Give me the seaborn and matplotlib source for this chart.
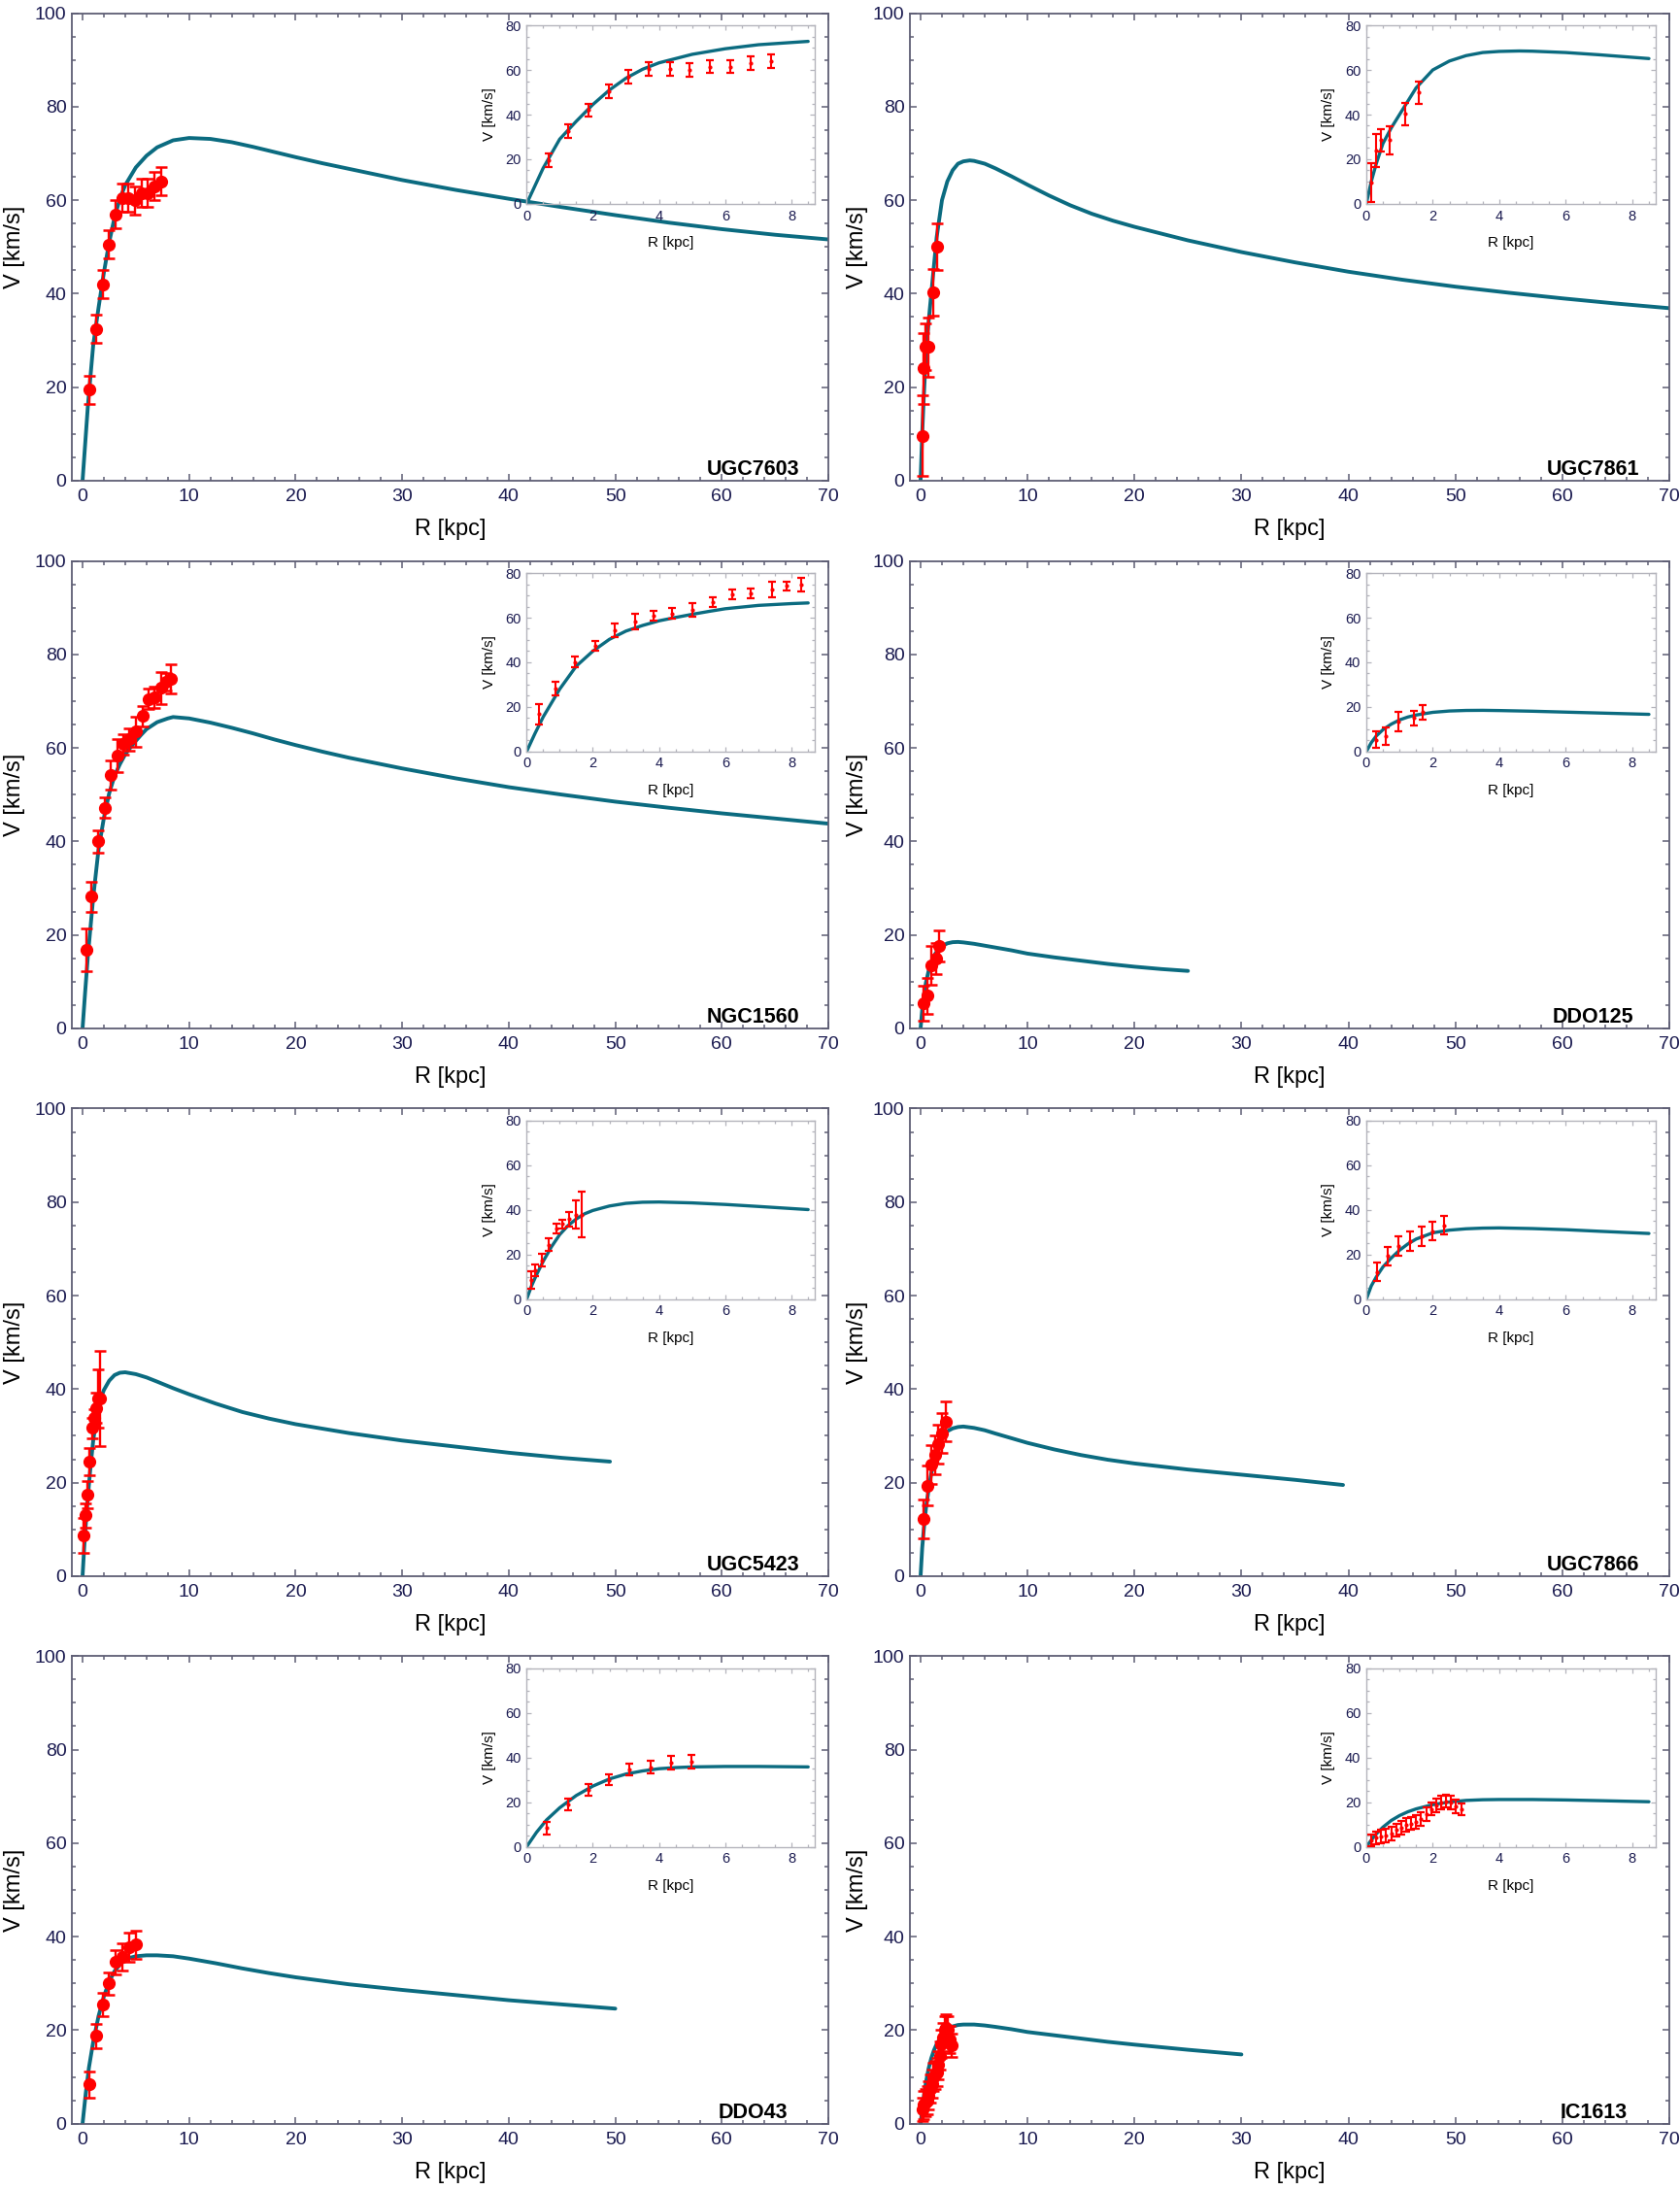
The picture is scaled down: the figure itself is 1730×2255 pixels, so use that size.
import matplotlib
matplotlib.use('Agg')
import matplotlib.pyplot as plt
from matplotlib.ticker import MultipleLocator
import seaborn as sns

# ----- Dados -----
galaxias = ['UGC7603', 'UGC7861', 'NGC1560', 'DDO125', 'UGC5423', 'UGC7866', 'DDO43', 'IC1613']

# pontos observados (R [kpc], V [km/s], erro)
ugc7603_r = [0.66, 1.26, 1.87, 2.47, 3.08, 3.7, 4.32, 4.93, 5.54, 6.14, 6.76, 7.37]
ugc7603_v = [19.5, 32.5, 42.0, 50.5, 57.0, 60.5, 60.5, 60.0, 61.5, 61.5, 63.0, 64.0]
ugc7603_e = [3.0, 3.0, 3.0, 3.0, 3.0, 3.0, 3.0, 3.0, 3.0, 3.0, 3.0, 3.0]

ugc7861_r = [0.14, 0.3, 0.43, 0.71, 1.18, 1.57]
ugc7861_v = [9.6, 24.0, 28.6, 28.6, 40.3, 50.0]
ugc7861_e = [8.6, 7.5, 5.0, 6.3, 5.0, 5.0]

ngc1560_r = [0.37, 0.86, 1.46, 2.07, 2.65, 3.27, 3.82, 4.39, 5.0, 5.61, 6.2, 6.75, 7.4, 7.85, 8.28]
ngc1560_v = [16.8, 28.2, 40.0, 47.2, 54.2, 58.3, 60.8, 61.8, 63.5, 66.8, 70.5, 70.8, 72.8, 74.2, 74.7]
ngc1560_e = [4.5, 3.2, 2.4, 2.2, 3.1, 3.5, 2.2, 2.4, 3.2, 2.2, 2.2, 2.2, 3.5, 1.9, 3.1]

ddo125_r = [0.29, 0.6, 0.98, 1.42, 1.71]
ddo125_v = [5.4, 7.0, 13.5, 15.0, 17.7]
ddo125_e = [3.8, 3.8, 4.2, 3.3, 3.3]

ugc5423_r = [0.13, 0.26, 0.47, 0.67, 0.89, 1.09, 1.28, 1.48, 1.67]
ugc5423_v = [8.7, 13.0, 17.5, 24.5, 31.7, 33.8, 36.0, 38.0, 38.0]
ugc5423_e = [3.8, 2.6, 2.9, 3.0, 2.2, 2.0, 3.2, 6.2, 10.2]

ugc7866_r = [0.31, 0.65, 0.98, 1.32, 1.66, 2.0, 2.34]
ugc7866_v = [12.2, 19.4, 23.9, 26.0, 28.2, 30.6, 33.1]
ugc7866_e = [4.1, 4.2, 4.2, 4.2, 4.2, 4.2, 4.2]

ddo43_r = [0.62, 1.24, 1.87, 2.49, 3.1, 3.74, 4.37, 4.99]
ddo43_v = [8.4, 18.8, 25.5, 30.0, 34.6, 35.7, 37.8, 38.3]
ddo43_e = [2.8, 2.6, 2.5, 2.4, 2.6, 2.9, 3.1, 3.0]

ic1613_r = [0.15, 0.3, 0.45, 0.6, 0.75, 0.9, 1.05, 1.2, 1.35, 1.5, 1.65, 1.8, 1.95, 2.1, 2.25, 2.4, 2.55, 2.7, 2.87]
ic1613_v = [3.0, 4.0, 4.5, 5.0, 6.0, 7.5, 8.5, 10.0, 10.5, 11.0, 12.5, 14.5, 17.0, 18.5, 20.0, 20.5, 20.0, 18.0, 16.8]
ic1613_e = [2.5, 3.0, 3.0, 3.0, 3.0, 3.0, 3.0, 3.0, 3.0, 3.0, 3.0, 3.0, 3.0, 3.0, 3.0, 3.0, 3.0, 3.0, 2.5]

# curvas do modelo (amostradas da figura)
ugc7603_mr = [0, 0.25, 0.5, 1, 1.5, 2, 2.5, 3, 3.5, 4, 5, 6, 7, 8.5, 10, 12, 14, 16, 18, 20, 22.5, 25, 30, 35, 40, 45, 50, 55, 60, 65, 70]
ugc7603_mv = [0, 8, 16, 29, 37, 44.5, 51, 56.3, 60.3, 63.2, 67, 69.5, 71.3, 72.8, 73.3, 73.1, 72.4, 71.4, 70.3, 69.2, 67.9, 66.7, 64.3, 62.2, 60.3, 58.5, 56.8, 55.2, 53.8, 52.6, 51.6]

ugc7861_mr = [0, 0.15, 0.3, 0.5, 0.75, 1, 1.25, 1.5, 2, 2.5, 3, 3.5, 4, 4.6, 5, 6, 7, 8.5, 10, 12, 14, 16, 18, 20, 25, 30, 35, 40, 45, 50, 55, 60, 65, 70]
ugc7861_mv = [0, 10, 18, 27, 34, 40, 46, 52, 60, 64, 66.4, 67.8, 68.3, 68.5, 68.4, 67.8, 66.8, 65.1, 63.3, 61.0, 58.9, 57.1, 55.6, 54.3, 51.4, 48.9, 46.7, 44.7, 43, 41.5, 40.2, 39, 37.9, 36.9]

ngc1560_mr = [0, 0.25, 0.5, 1, 1.5, 2, 2.5, 3, 3.5, 4, 4.5, 5, 5.5, 6, 7, 8, 8.5, 10, 12, 14, 16, 18, 20, 22.5, 25, 30, 35, 40, 45, 50, 55, 60, 65, 70]
ngc1560_mv = [0, 8, 15.5, 28, 38.3, 45, 50.3, 54, 56.5, 58.6, 60.1, 61.5, 62.8, 64, 65.5, 66.3, 66.6, 66.3, 65.4, 64.3, 63.1, 61.8, 60.6, 59.2, 57.9, 55.6, 53.5, 51.6, 50, 48.5, 47.2, 46, 44.9, 43.8]

ddo125_mr = [0, 0.15, 0.3, 0.5, 0.75, 1, 1.25, 1.5, 2, 2.5, 3, 3.5, 4, 5, 6, 7, 8.5, 10, 12.5, 15, 17.5, 20, 22.5, 25]
ddo125_mv = [0, 4, 7, 9.8, 12.3, 14.2, 15.5, 16.4, 17.6, 18.2, 18.45, 18.5, 18.4, 18.1, 17.7, 17.3, 16.7, 16, 15.2, 14.5, 13.8, 13.2, 12.7, 12.3]

ugc5423_mr = [0, 0.15, 0.3, 0.5, 0.75, 1, 1.25, 1.5, 1.75, 2, 2.5, 3, 3.5, 4, 5, 6, 7, 8.5, 10, 12.5, 15, 17.5, 20, 25, 30, 35, 40, 45, 49.5]
ugc5423_mv = [0, 6, 11, 17, 23.5, 29, 33, 36, 38.3, 39.8, 41.8, 43, 43.5, 43.6, 43.2, 42.5, 41.6, 40.2, 38.9, 36.9, 35.1, 33.7, 32.5, 30.6, 29, 27.7, 26.4, 25.3, 24.5]

ugc7866_mr = [0, 0.15, 0.3, 0.5, 0.75, 1, 1.25, 1.5, 2, 2.5, 3, 3.5, 4, 5, 6, 7, 8.5, 10, 12.5, 15, 17.5, 20, 25, 30, 35, 39.5]
ugc7866_mv = [0, 6, 10, 14.5, 18.5, 22, 24.8, 27, 29.8, 31, 31.6, 31.9, 32, 31.7, 31.2, 30.5, 29.5, 28.5, 27.1, 25.9, 24.9, 24.1, 22.8, 21.7, 20.6, 19.5]

ddo43_mr = [0, 0.3, 0.6, 1, 1.5, 2, 2.5, 3, 3.5, 4, 4.5, 5, 6, 7, 8.5, 10, 12.5, 15, 17.5, 20, 25, 30, 35, 40, 45, 50]
ddo43_mv = [0, 6.5, 12, 17.5, 23, 27.2, 30.4, 32.6, 34, 35, 35.5, 35.8, 36, 36, 35.8, 35.3, 34.3, 33.2, 32.2, 31.3, 29.8, 28.6, 27.5, 26.4, 25.5, 24.6]

ic1613_mr = [0, 0.25, 0.5, 0.75, 1, 1.25, 1.5, 2, 2.5, 3, 3.5, 4, 5, 6, 7, 8.5, 10, 12.5, 15, 17.5, 20, 25, 30]
ic1613_mv = [0, 5, 8.8, 11.8, 14, 15.7, 17, 18.9, 20.1, 20.8, 21.1, 21.2, 21.2, 21, 20.7, 20.2, 19.6, 18.9, 18.2, 17.5, 16.9, 15.8, 14.8]

dados = {
    'UGC7603': (ugc7603_r, ugc7603_v, ugc7603_e, ugc7603_mr, ugc7603_mv),
    'UGC7861': (ugc7861_r, ugc7861_v, ugc7861_e, ugc7861_mr, ugc7861_mv),
    'NGC1560': (ngc1560_r, ngc1560_v, ngc1560_e, ngc1560_mr, ngc1560_mv),
    'DDO125': (ddo125_r, ddo125_v, ddo125_e, ddo125_mr, ddo125_mv),
    'UGC5423': (ugc5423_r, ugc5423_v, ugc5423_e, ugc5423_mr, ugc5423_mv),
    'UGC7866': (ugc7866_r, ugc7866_v, ugc7866_e, ugc7866_mr, ugc7866_mv),
    'DDO43': (ddo43_r, ddo43_v, ddo43_e, ddo43_mr, ddo43_mv),
    'IC1613': (ic1613_r, ic1613_v, ic1613_e, ic1613_mr, ic1613_mv),
}

# ----- Estilo -----
sns.set_theme(style='ticks')
plt.rcParams['font.family'] = ['Liberation Sans', 'DejaVu Sans']

cor_curva = '#0b6b80'
cor_dados = '#ff0000'
cor_tick = '#1a1a50'
cor_borda = '#5e5e74'
cor_borda_inset = '#b4b4bc'

fig = plt.figure(figsize=(17.3, 22.55), dpi=100)

esquerdas = [0.0428, 0.5416]
larguras = [0.4503, 0.452]
bases = [0.7805, 0.5304, 0.2803, 0.0303]
altura = 0.2135

for i, nome in enumerate(galaxias):
    lin, col = divmod(i, 2)
    r, v, e, mr, mv = dados[nome]

    ax = fig.add_axes([esquerdas[col], bases[lin], larguras[col], altura])
    ax.set_facecolor('white')

    sns.lineplot(x=mr, y=mv, ax=ax, color=cor_curva, lw=2.8, sort=False, estimator=None, zorder=2)
    ax.errorbar(r, v, yerr=e, fmt='o', color=cor_dados, ms=8.5, elinewidth=1.7,
                capsize=4, capthick=1.8, zorder=3)

    ax.set_xlim(-1, 70)
    ax.set_ylim(0, 100)
    ax.xaxis.set_major_locator(MultipleLocator(10))
    ax.xaxis.set_minor_locator(MultipleLocator(2))
    ax.yaxis.set_major_locator(MultipleLocator(20))
    ax.yaxis.set_minor_locator(MultipleLocator(5))
    ax.tick_params(which='both', direction='in', top=True, right=True, color=cor_borda, width=1.1)
    ax.tick_params(which='major', length=5, labelsize=14, labelcolor=cor_tick)
    ax.tick_params(axis='x', which='major', pad=6)
    ax.tick_params(axis='y', which='major', pad=4)
    ax.tick_params(which='minor', length=3.2)
    for s in ax.spines.values():
        s.set_color(cor_borda)
        s.set_linewidth(1.3)

    ax.set_xlabel('R [kpc]', fontsize=17, color='black')
    ax.set_ylabel('V [km/s]', fontsize=17, color='black')
    ax.xaxis.label.set_va('center')
    ax.yaxis.label.set_va('center')
    ax.xaxis.set_label_coords(0.5, -0.104)
    ax.yaxis.set_label_coords(-0.076 if col == 0 else -0.069, 0.5)

    ax.text(0.9, 0.012, nome, transform=ax.transAxes, ha='center', va='baseline',
            fontsize=15.5, fontweight='bold', color='black')

    # ----- Inset -----
    axi = ax.inset_axes([0.601, 0.592, 0.381, 0.382])
    axi.set_facecolor('none')
    ri = [x for x in mr if x <= 8.5]
    vi = mv[:len(ri)]
    sns.lineplot(x=ri, y=vi, ax=axi, color=cor_curva, lw=2.4, sort=False, estimator=None, zorder=2)
    axi.errorbar(r, v, yerr=e, fmt='o', color=cor_dados, ms=2, elinewidth=1.5,
                 capsize=3, capthick=1.6, zorder=3)
    axi.set_xlim(0, 8.7)
    axi.set_ylim(0, 80)
    axi.xaxis.set_major_locator(MultipleLocator(2))
    axi.xaxis.set_minor_locator(MultipleLocator(0.5))
    axi.yaxis.set_major_locator(MultipleLocator(20))
    axi.yaxis.set_minor_locator(MultipleLocator(5))
    axi.tick_params(which='both', direction='in', top=True, right=True, color=cor_borda_inset, width=0.9)
    axi.tick_params(which='major', length=3.5, labelsize=10.5, labelcolor=cor_tick, pad=4)
    axi.tick_params(which='minor', length=2)
    for s in axi.spines.values():
        s.set_color(cor_borda_inset)
        s.set_linewidth(1.0)
    axi.set_xlabel('R [kpc]', fontsize=11, color='black')
    axi.set_ylabel('V [km/s]', fontsize=11, color='black')
    axi.xaxis.label.set_va('center')
    axi.yaxis.label.set_va('center')
    axi.xaxis.set_label_coords(0.5, -0.217)
    axi.yaxis.set_label_coords(-0.13, 0.5)

fig.savefig('out.png', dpi=100, facecolor='white')
